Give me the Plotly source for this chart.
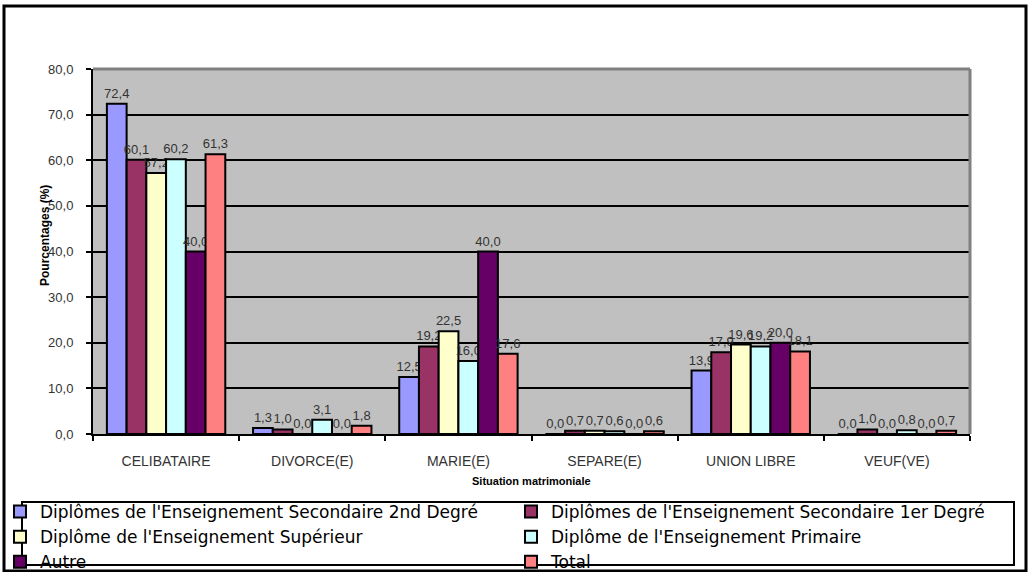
import plotly.graph_objects as go

categories = ["CELIBATAIRE", "DIVORCE(E)", "MARIE(E)", "SEPARE(E)", "UNION LIBRE", "VEUF(VE)"]
series_names = [
    "Diplômes de l'Enseignement Secondaire 2nd Degré",
    "Diplômes de l'Enseignement Secondaire 1er Degré",
    "Diplôme de l'Enseignement Supérieur",
    "Diplôme de l'Enseignement Primaire",
    "Autre",
    "Total",
]
sec2 = [72.4, 1.3, 12.5, 0.0, 13.9, 0.0]
sec1 = [60.1, 1.0, 19.2, 0.7, 17.9, 1.0]
sup = [57.2, 0.0, 22.5, 0.7, 19.6, 0.0]
prim = [60.2, 3.1, 16.0, 0.6, 19.2, 0.8]
autre = [40.0, 0.0, 40.0, 0.0, 20.0, 0.0]
total = [61.3, 1.8, 17.6, 0.6, 18.1, 0.7]
series_values = [sec2, sec1, sup, prim, autre, total]
colors = ["#9999FF", "#993366", "#FFFFCC", "#CCFFFF", "#660066", "#FF8080"]
legend_column = ["legend", "legend2", "legend", "legend2", "legend", "legend2"]

W, H = 1028, 572
L, R, T, B = 93, 970, 69, 434
FONT = "Liberation Sans, Arial"
LEGFONT = "DejaVu Sans"

def px(x):
    return (x - L) / (R - L)

def py(y):
    return (B - y) / (B - T)

fig = go.Figure()
for name, vals, col, leg in zip(series_names, series_values, colors, legend_column):
    fig.add_trace(go.Bar(
        x=categories, y=vals, name=name, legend=leg,
        marker=dict(color=col, line=dict(color="black", width=2)),
        texttemplate="%{y:.1f}", textposition="outside", constraintext="none",
        textfont=dict(family=FONT, size=13, color="#333333"),
        cliponaxis=False,
    ))

legend_common = dict(
    orientation="v", xref="container", yref="container",
    xanchor="left", y=1 - 494 / H, yanchor="top",
    font=dict(family=LEGFONT, size=17, color="black"),
    bgcolor="rgba(0,0,0,0)", borderwidth=0, traceorder="normal",
)

fig.update_layout(
    width=W, height=H,
    margin=dict(l=L, r=W - R, t=T, b=H - B, pad=0, autoexpand=False),
    paper_bgcolor="white", plot_bgcolor="#C0C0C0",
    barmode="group", bargap=0.19, bargroupgap=0,
    separators=", ",
    font=dict(family=FONT, color="#333333"),
    showlegend=True,
    legend=dict(x=0.0, **legend_common),
    legend2=dict(x=511 / W, **legend_common),
    xaxis=dict(
        showline=True, linecolor="black", linewidth=2,
        ticks="outside", tickson="boundaries", ticklen=5, tickcolor="black", tickwidth=2,
        showgrid=False, ticklabelstandoff=13,
        tickfont=dict(size=14, color="#333333"),
    ),
    yaxis=dict(
        range=[0, 80], dtick=10, tickformat=".1f",
        showline=True, linecolor="black", linewidth=2,
        ticks="outside", ticklen=5, tickcolor="black", tickwidth=2,
        showgrid=True, gridcolor="black", gridwidth=2,
        tickfont=dict(size=13, color="#333333"),
        ticklabelstandoff=10,
        zeroline=False,
    ),
    shapes=[
        dict(type="rect", xref="paper", yref="paper",
             x0=px(4), x1=px(1026), y0=py(571), y1=py(6),
             line=dict(color="black", width=3), layer="below"),
        dict(type="line", xref="paper", yref="paper",
             x0=0, x1=1, y0=1, y1=1, line=dict(color="#808080", width=3), layer="above"),
        dict(type="line", xref="paper", yref="paper",
             x0=1, x1=1, y0=0, y1=1, line=dict(color="#808080", width=3), layer="above"),
        dict(type="rect", xref="paper", yref="paper",
             x0=px(22), x1=px(1014), y0=py(565), y1=py(502),
             line=dict(color="black", width=2), layer="above"),
    ],
    annotations=[
        dict(text="<b>Situation matrimoniale</b>", xref="paper", yref="paper",
             x=0.5, y=py(481), xanchor="center", yanchor="middle", showarrow=False,
             font=dict(size=11, color="black")),
        dict(text="<b>Pourcentages (%)</b>", xref="paper", yref="paper",
             x=px(45), y=py(236), xanchor="center", yanchor="middle", showarrow=False,
             textangle=-90, font=dict(size=12, color="black")),
    ],
)

fig.write_html("out.html")
